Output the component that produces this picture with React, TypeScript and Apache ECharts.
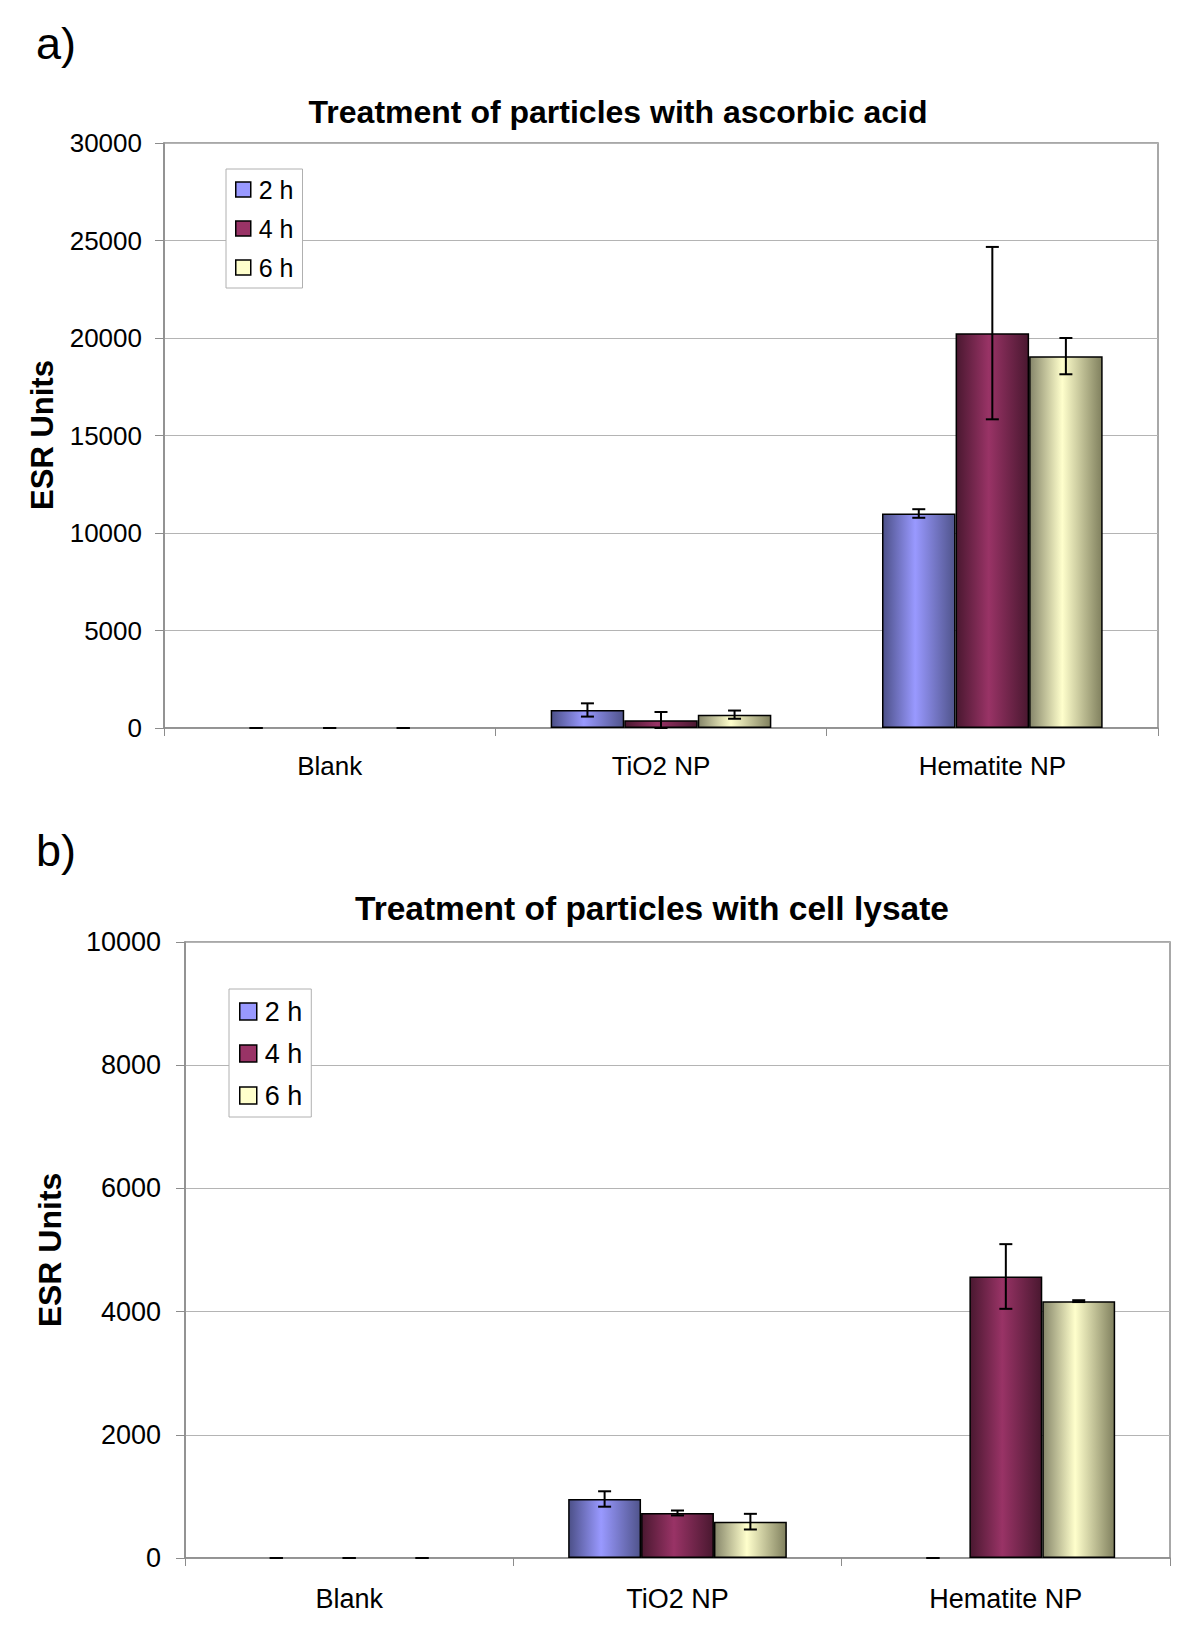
import React, { useEffect, useRef } from "react";
import * as echarts from "echarts";

const FONT = '"Liberation Sans", Arial, Helvetica, sans-serif';

// ---- data ----
const categories = ["Blank", "TiO2 NP", "Hematite NP"];
const seriesNames = ["2 h", "4 h", "6 h"];

// a) ascorbic acid
const ascorbic2h = [0, 925, 11000];
const ascorbic4h = [0, 400, 20250];
const ascorbic6h = [0, 685, 19070];
const ascorbicErr2h = [0, 340, 220];
const ascorbicErr4h = [0, 420, 4420];
const ascorbicErr6h = [0, 210, 930];

// b) cell lysate
const lysate2h = [0, 958, 0];
const lysate4h = [0, 731, 4570];
const lysate6h = [0, 590, 4170];
const lysateErr2h = [0, 125, 0];
const lysateErr4h = [0, 40, 525];
const lysateErr6h = [0, 127, 15];

const axisATicks = { min: 0, max: 30000, interval: 5000 };
const axisBTicks = { min: 0, max: 10000, interval: 2000 };

// ---- styles ----
const BAR_FRAC = 0.222;
const flatColors = ["#9999FF", "#993366", "#FFFFCC"];
const gradStops = [
  ["#4C5088", "#9999FF", "#50548C"],
  ["#4A1830", "#993366", "#4A1830"],
  ["#86866A", "#FFFFCC", "#80805E"],
];

function gradient(i: number) {
  const [l, m, r] = gradStops[i];
  return {
    type: "linear",
    x: 0,
    y: 0,
    x2: 1,
    y2: 0,
    colorStops: [
      { offset: 0, color: l },
      { offset: 0.45, color: m },
      { offset: 1, color: r },
    ],
  };
}

const panels = [
  {
    grid: { left: 164, top: 143, width: 994, height: 585 },
    ticks: axisATicks,
    values: [ascorbic2h, ascorbic4h, ascorbic6h],
    errors: [ascorbicErr2h, ascorbicErr4h, ascorbicErr6h],
    title: "Treatment of particles with ascorbic acid",
    titleX: 618,
    titleY: 112,
    titleSize: 32,
    label: "a)",
    labelX: 36,
    labelY: 43,
    yNameX: 42,
    yNameY: 435,
    yNameSize: 31,
    tickSize: 26,
    catSize: 26,
    yLabelMargin: 22,
    xLabelMargin: 25,
    legend: { left: 226, top: 169, item: 15, font: 25, gap: 14, padding: [8, 9, 8, 9] },
  },
  {
    grid: { left: 185, top: 942, width: 985, height: 616 },
    ticks: axisBTicks,
    values: [lysate2h, lysate4h, lysate6h],
    errors: [lysateErr2h, lysateErr4h, lysateErr6h],
    title: "Treatment of particles with cell lysate",
    titleX: 652,
    titleY: 908,
    titleSize: 33.5,
    label: "b)",
    labelX: 36,
    labelY: 850,
    yNameX: 50,
    yNameY: 1250,
    yNameSize: 32,
    tickSize: 27,
    catSize: 27,
    yLabelMargin: 24,
    xLabelMargin: 27,
    legend: { left: 229, top: 989, item: 17, font: 27, gap: 15, padding: [9, 9, 8, 10] },
  },
];

export default function App() {
  const ref = useRef<HTMLDivElement>(null);

  useEffect(() => {
    if (!ref.current) return;
    const chart = echarts.init(ref.current, null, { renderer: "svg" });

    const grids: any[] = [];
    const xAxes: any[] = [];
    const yAxes: any[] = [];
    const legends: any[] = [];
    const series: any[] = [];
    const graphics: any[] = [];

    panels.forEach((p, pi) => {
      grids.push({
        ...p.grid,
        show: true,
        borderColor: "#8c8c8c",
        borderWidth: 1.5,
        backgroundColor: "#fff",
        containLabel: false,
      });
      xAxes.push({
        type: "category",
        gridIndex: pi,
        data: categories,
        axisLine: { show: true, lineStyle: { color: "#8c8c8c", width: 1.5 } },
        axisTick: { show: true, length: 8, lineStyle: { color: "#8c8c8c" } },
        axisLabel: {
          color: "#000",
          fontFamily: FONT,
          fontSize: p.catSize,
          margin: p.xLabelMargin,
        },
        splitLine: { show: false },
      });
      yAxes.push({
        type: "value",
        gridIndex: pi,
        min: p.ticks.min,
        max: p.ticks.max,
        interval: p.ticks.interval,
        axisLine: { show: true, lineStyle: { color: "#8c8c8c", width: 1.5 } },
        axisTick: { show: true, length: 9, lineStyle: { color: "#8c8c8c" } },
        axisLabel: {
          color: "#000",
          fontFamily: FONT,
          fontSize: p.tickSize,
          margin: p.yLabelMargin,
          formatter: (v: number) => String(v),
        },
        splitLine: { show: true, lineStyle: { color: "#b4b4b4", width: 1 } },
      });
      legends.push({
        orient: "vertical",
        left: p.legend.left,
        top: p.legend.top,
        itemWidth: p.legend.item,
        itemHeight: p.legend.item,
        itemGap: p.legend.gap,
        padding: p.legend.padding,
        borderColor: "#b0b0b0",
        borderWidth: 1,
        backgroundColor: "#fff",
        selectedMode: false,
        icon: "rect",
        textStyle: {
          fontFamily: FONT,
          fontSize: p.legend.font,
          color: "#000",
          padding: [0, 0, 0, 3],
        },
        data: seriesNames.map((n, i) => ({
          name: n,
          icon: "rect",
          itemStyle: { color: flatColors[i], borderColor: "#000", borderWidth: 1.5 },
        })),
      });

      seriesNames.forEach((name, k) => {
        series.push({
          type: "bar",
          name,
          xAxisIndex: pi,
          yAxisIndex: pi,
          barWidth: BAR_FRAC * 100 + "%",
          barGap: "0%",
          itemStyle: { color: gradient(k), borderColor: "#000", borderWidth: 1.5 },
          emphasis: { disabled: true },
          data: p.values[k].map((v) =>
            v === 0 ? { value: v, itemStyle: { borderWidth: 0 } } : { value: v }
          ),
          z: 2,
        });
      });

      seriesNames.forEach((name, k) => {
        series.push({
          type: "custom",
          name: name + " error",
          xAxisIndex: pi,
          yAxisIndex: pi,
          z: 5,
          encode: { x: 0, y: 1 },
          data: p.values[k].map((v, ci) => [ci, v, p.errors[k][ci]]),
          renderItem: (params: any, api: any) => {
            const idx = api.value(0);
            const v = api.value(1);
            const e = api.value(2);
            const band = api.size([1, 0])[0];
            const dx = (k - 1) * band * BAR_FRAC;
            const top = api.coord([idx, v + e]);
            const bot = api.coord([idx, Math.max(v - e, 0)]);
            const x = top[0] + dx;
            const cap = 6.5;
            const st = { stroke: "#000", lineWidth: 2 };
            return {
              type: "group",
              children: [
                { type: "line", shape: { x1: x, y1: top[1], x2: x, y2: bot[1] }, style: st },
                { type: "line", shape: { x1: x - cap, y1: top[1], x2: x + cap, y2: top[1] }, style: st },
                { type: "line", shape: { x1: x - cap, y1: bot[1], x2: x + cap, y2: bot[1] }, style: st },
              ],
            };
          },
        });
      });

      graphics.push(
        {
          type: "text",
          x: p.titleX,
          y: p.titleY,
          style: {
            text: p.title,
            fontFamily: FONT,
            fontSize: p.titleSize,
            fontWeight: "bold",
            fill: "#000",
            textAlign: "center",
            textVerticalAlign: "middle",
          },
        },
        {
          type: "text",
          x: p.labelX,
          y: p.labelY,
          style: {
            text: p.label,
            fontFamily: FONT,
            fontSize: 45,
            fill: "#000",
            textAlign: "left",
            textVerticalAlign: "middle",
          },
        },
        {
          type: "text",
          x: p.yNameX,
          y: p.yNameY,
          rotation: Math.PI / 2,
          style: {
            text: "ESR Units",
            fontFamily: FONT,
            fontSize: p.yNameSize,
            fontWeight: "bold",
            fill: "#000",
            textAlign: "center",
            textVerticalAlign: "middle",
          },
        }
      );
    });

    chart.setOption({
      animation: false,
      backgroundColor: "#fff",
      textStyle: { fontFamily: FONT },
      grid: grids,
      xAxis: xAxes,
      yAxis: yAxes,
      legend: legends,
      series,
      graphic: graphics,
    });

    return () => chart.dispose();
  }, []);

  return (
    <div
      ref={ref}
      style={{ position: "absolute", left: 0, top: 0, width: 1200, height: 1640, background: "#fff" }}
    />
  );
}
